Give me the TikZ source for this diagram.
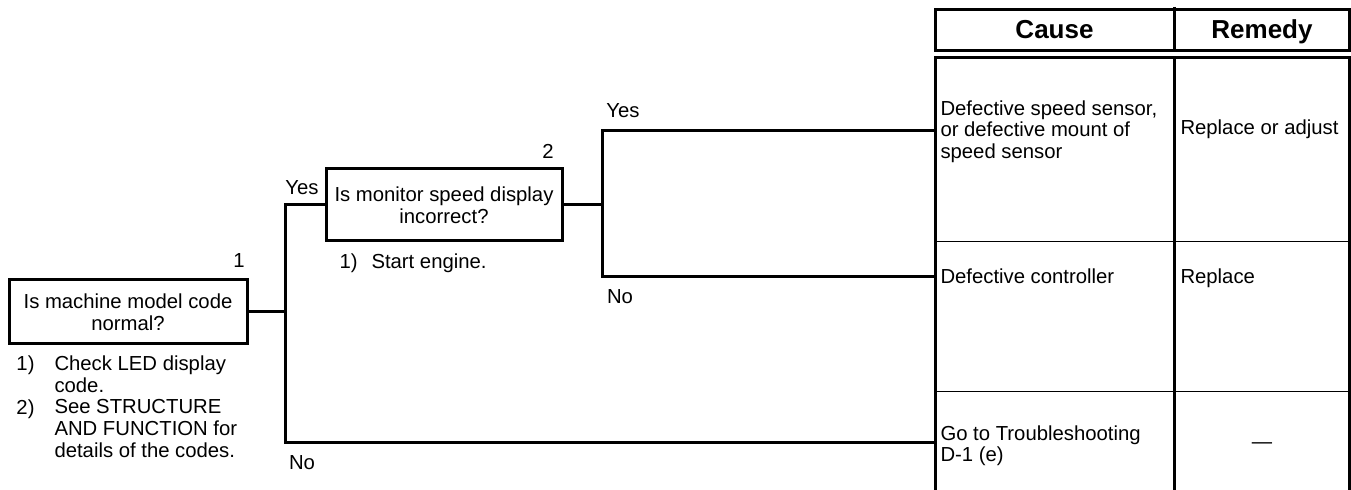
\documentclass[tikz,border=0pt]{standalone}
\usepackage{fontspec}
\setmainfont{Liberation Sans}
\begin{document}
\begin{tikzpicture}[x=0.5pt,y=-0.5pt,line width=1.5pt,
    every node/.style={font=\fontsize{10.15}{11}\selectfont, inner sep=0pt},
    qbox/.style={draw, align=center, minimum width=119pt, minimum height=32pt},
    txt/.style={anchor=north west, align=left},
    lbl/.style={anchor=base},
    head/.style={anchor=base, font=\fontsize{13}{14}\selectfont\bfseries}]
    \useasboundingbox (0,0) rectangle (1351,490);

    %question boxes
        \node[qbox] (q1) at (128,312) {Is machine model code\\normal?};
        \node[qbox, minimum width=118pt, minimum height=36pt] (q2) at (444,205) {Is monitor speed display\\incorrect?};
        \node[lbl] (n1) at (239,268) {1};
        \node[lbl] (n2) at (548,159) {2};

    %notes under the boxes
        \node[txt] (a1) at (15,354) {1)};
        \node[txt] (a1t) at (53,354) {Check LED display\\code.};
        \node[txt] (a2) at (15,398) {2)};
        \node[txt] (a2t) at (53,398) {See STRUCTURE\\AND FUNCTION for\\details of the codes.};
        \node[lbl, anchor=base west] (b1) at (338,269) {1)};
        \node[lbl, anchor=base west] (b1t) at (370,269) {Start engine.};

    %table of causes and remedies
        \draw (935,9.5) rectangle (1349,51);
        \draw (1174.5,7) -- (1174.5,51);
        \draw (935,490) -- (935,57.5) -- (1349,57.5) -- (1349,490);
        \draw (1174.5,57.5) -- (1174.5,490);
        \draw[line width=0.5pt] (935,242) -- (1349,242);
        \draw[line width=0.5pt] (935,392) -- (1349,392);
        \node[head] (h1) at (1054.5,39) {Cause};
        \node[head] (h2) at (1262,39) {Remedy};

        \node[txt, font=\fontsize{10.15}{10.75}\selectfont] (r1c) at (939,99) {Defective speed sensor,\\or defective mount of\\speed sensor};
        \node[lbl, anchor=base west] (r1r) at (1179,135) {Replace or adjust};
        \node[lbl, anchor=base west] (r2c) at (939,284) {Defective controller};
        \node[lbl, anchor=base west] (r2r) at (1179,284) {Replace};
        \node[txt, font=\fontsize{10.15}{10.75}\selectfont] (r3c) at (939,424) {Go to Troubleshooting\\D-1 (e)};
        \node[lbl] (r3r) at (1262,449) {—};

        \coordinate (c1) at (935,131);
        \coordinate (c2) at (935,277);
        \coordinate (c3) at (935,443);

    %connectors
        \coordinate (j1) at (285,312);
        \coordinate (j2) at (602,205);
        \draw (q1.east) -- (j1);
        \draw (q2.west) -| (j1) |- (c3);
        \draw (q2.east) -- (j2);
        \draw (c1) -| (j2) |- (c2);

        \node[lbl] (y1) at (302,195) {Yes};
        \node[lbl] (no1) at (302,470) {No};
        \node[lbl] (y2) at (623,118) {Yes};
        \node[lbl] (no2) at (620,304) {No};

\end{tikzpicture}
\end{document}
